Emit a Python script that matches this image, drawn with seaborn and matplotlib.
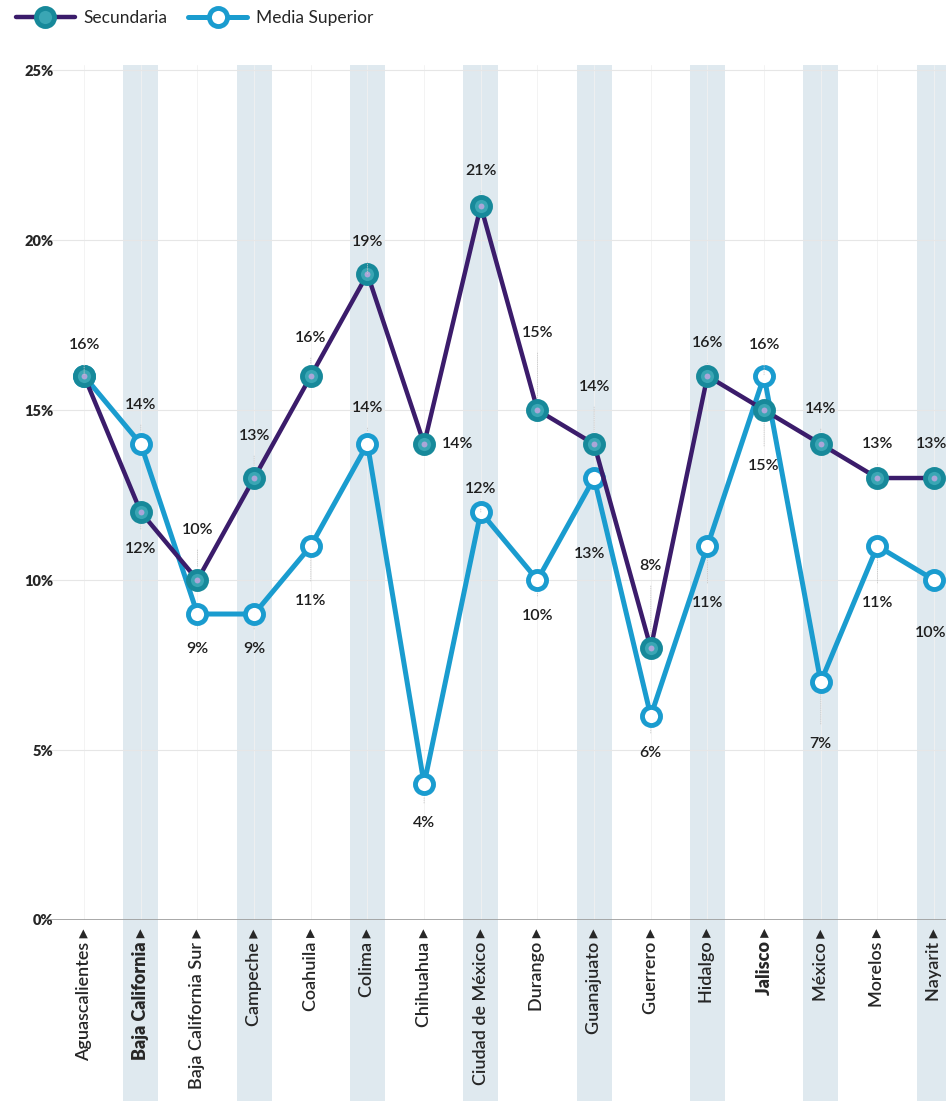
import numpy as np
import pandas as pd
import seaborn as sns
import matplotlib.pyplot as plt
from matplotlib.lines import Line2D

# Data
estados = ["Aguascalientes", "Baja California", "Baja California Sur", "Campeche",
           "Coahuila", "Colima", "Chihuahua", "Ciudad de México", "Durango",
           "Guanajuato", "Guerrero", "Hidalgo", "Jalisco", "México", "Morelos", "Nayarit"]
secundaria = [16, 12, 10, 13, 16, 19, 14, 21, 15, 14, 8, 16, 15, 14, 13, 13]
media_superior = [16, 14, 9, 9, 11, 14, 4, 12, 10, 13, 6, 11, 16, 7, 11, 10]
resaltados = ["Baja California", "Jalisco"]

# label offsets (pixels) for the value labels; None = no label
off_sec = [(0, 31), (0, -37), (0, 50), (0, 42), (0, 38), (0, 32), (18, 0), (0, 35),
           (0, 77), (0, 57), (0, 82), (0, 33), (0, -56), (0, 35), (0, 34), (-3, 34)]
off_ms = [None, (0, 39), (0, -35), (0, -35), (0, -55), (0, 36), (0, -39), (0, 23),
          (0, -36), (-5, -76), (0, -37), (0, -57), (0, 31), (0, -62), (0, -57), (-3, -53)]

C_SEC = "#3b1c6b"
C_SEC_MK = "#3aa6b4"
C_SEC_EDGE = "#17899a"
C_MS = "#1a9ccf"
C_BAND = "#dfe9ef"

sns.set_style("white")
plt.rcParams["font.family"] = ["Lato", "DejaVu Sans"]

df = pd.DataFrame({
    "pos": np.tile(np.arange(len(estados)), 2),
    "valor": secundaria + media_superior,
    "serie": ["Secundaria"] * len(estados) + ["Media Superior"] * len(estados),
})

fig = plt.figure(figsize=(9.46, 11.01), dpi=100)
ax = fig.add_axes([0.0476, 0.1644, 0.9524, 0.7766])

# alternating bands, running down through the label area
for i in range(1, len(estados), 2):
    ax.axvspan(i - 0.31, i + 0.31, ymin=-0.22, ymax=1, color=C_BAND, lw=0,
               clip_on=False, zorder=0)

for y in range(5, 26, 5):
    ax.axhline(y, color="#e6e6e6", lw=0.8, zorder=0.5)
for i in range(len(estados)):
    ax.axvline(i, color="#f1f1f1", lw=0.6, zorder=0.4)
ax.axhline(0, color="#9a9a9a", lw=1.2, zorder=1)

sns.lineplot(data=df[df.serie == "Media Superior"], x="pos", y="valor", ax=ax,
             color=C_MS, lw=3.6, marker="o", markersize=13, markerfacecolor="white",
             markeredgecolor=C_MS, markeredgewidth=3.5, zorder=3, legend=False)
sns.lineplot(data=df[df.serie == "Secundaria"], x="pos", y="valor", ax=ax,
             color=C_SEC, lw=3.2, marker="o", markersize=13, markerfacecolor=C_SEC_MK,
             markeredgecolor=C_SEC_EDGE, markeredgewidth=3.5, zorder=4, legend=False)
# light centre dot on the Secundaria markers
ax.scatter(range(len(estados)), secundaria, s=18, color="#aaa6d8", zorder=5, lw=0)


def etiquetas(valores, offsets):
    for i, (v, off) in enumerate(zip(valores, offsets)):
        if off is None:
            continue
        ha = "left" if off[0] > 10 else "center"
        ax.annotate(f"{v}%", xy=(i, v), xytext=off, textcoords="offset pixels",
                    ha=ha, va="center", fontsize=11.5, fontweight="semibold",
                    color="#1e1e1e", zorder=6,
                    arrowprops=dict(arrowstyle="-", color="#c8c8c8", lw=0.6, ls=":",
                                    shrinkA=7, shrinkB=9) if off[0] == 0 else None)


etiquetas(secundaria, off_sec)
etiquetas(media_superior, off_ms)

ax.set_xlim(-0.69, 15.21)
ax.set_ylim(0, 25.15)
ax.set_yticks(range(0, 26, 5))
ax.set_yticklabels([f"{y}%" for y in range(0, 26, 5)], fontsize=10.5, fontweight="heavy")
ax.tick_params(axis="y", length=0, pad=-6)
ax.set_xticks(range(len(estados)))
ax.set_xticklabels([f"{e} \u25B8" for e in estados], rotation=90,
                   fontsize=13, fontweight="semibold", va="top", ha="center")
for t in ax.get_xticklabels():
    if t.get_text()[:-2] in resaltados:
        t.set_fontweight("heavy")
ax.tick_params(axis="x", length=0, pad=6)
ax.set_xlabel("")
ax.set_ylabel("")
sns.despine(ax=ax, left=True, bottom=True)

# legend at the top
handles = [
    Line2D([], [], color=C_SEC, lw=3.2, marker="o", markersize=13, markerfacecolor=C_SEC_MK,
           markeredgecolor=C_SEC_EDGE, markeredgewidth=3.5),
    Line2D([], [], color=C_MS, lw=3.6, marker="o", markersize=13, markerfacecolor="white",
           markeredgecolor=C_MS, markeredgewidth=3.5),
]
fig.legend(handles, ["Secundaria", "Media Superior"], loc="upper left",
           bbox_to_anchor=(0.0, 1.005), ncol=2, frameon=False, fontsize=12.5,
           handlelength=3.4, columnspacing=1.2, handletextpad=0.5)

fig.savefig("out.png", dpi=100, facecolor="white")
